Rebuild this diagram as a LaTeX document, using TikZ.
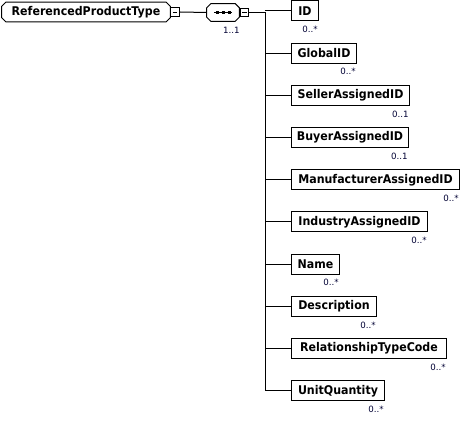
\documentclass[tikz,border=0pt]{standalone}
\usepackage{fontspec}
\setmainfont{DejaVu Sans}
\newfontfamily\boxfont{DejaVu Sans}[FakeStretch=0.92]
\begin{document}
\begin{tikzpicture}[x=0.75pt,y=-0.75pt,
  elem/.style={draw, line width=0.75pt, fill=white, minimum height=15pt, inner sep=0pt,
    font=\boxfont\bfseries\fontsize{9}{10}\selectfont, anchor=west},
  plainbox/.style={inner sep=0pt},
  chamf/.style={line width=0.75pt},
  card/.style={font=\fontsize{6.5}{7}\selectfont, anchor=north east, inner sep=0pt, text=black!80!blue},
  minusbox/.style={draw, line width=0.75pt, fill=white, minimum size=6.5pt, inner sep=0pt,
    path picture={\draw[line width=0.6pt] ([xshift=1.5pt]path picture bounding box.west) -- ([xshift=-1.5pt]path picture bounding box.east);}},
  conn/.style={line width=0.75pt}]
\useasboundingbox (0,0) rectangle (460,423);

% root element
\node[plainbox, minimum width=126pt, minimum height=14.25pt, font=\boxfont\bfseries\fontsize{9}{10}\selectfont] (root) at (86,12) {ReferencedProductType};
\draw[chamf] ([xshift=3pt]root.north west) -- ([xshift=-3pt]root.north east)
  -- ([yshift=-3pt]root.north east) -- ([yshift=3pt]root.south east)
  -- ([xshift=-3pt]root.south east) -- ([xshift=3pt]root.south west)
  -- ([yshift=3pt]root.south west) -- ([yshift=-3pt]root.north west) -- cycle;
\node[minusbox] (rminus) at (175,12) {};

% sequence compositor
\node[plainbox, minimum width=24pt, minimum height=12.75pt] (seq) at (223,12.5) {};
\draw[chamf] ([xshift=3pt]seq.north west) -- ([xshift=-3pt]seq.north east)
  -- ([yshift=-3pt]seq.north east) -- ([yshift=3pt]seq.south east)
  -- ([xshift=-3pt]seq.south east) -- ([xshift=3pt]seq.south west)
  -- ([yshift=3pt]seq.south west) -- ([yshift=-3pt]seq.north west) -- cycle;
\draw[conn] (214,12.5) -- (232,12.5);
\foreach \dx in {217,223,229} \fill (\dx-1.5,11) rectangle (\dx+1.5,14);
\node[minusbox] (sminus) at (244.5,12.5) {};
\node[card] (seqcard) at (240,27) {1..1};

\draw[conn] (rminus.east) -- (seq.west);
\coordinate (ttop) at (265,12.5);
\coordinate (tbot) at (265,390.8);
\draw[conn] (sminus.east) -- (ttop) -- (tbot);

\foreach \i/\t/\w/\c in {0/ID/27/{0..*},1/GlobalID/65/{0..*},2/SellerAssignedID/118/{0..1},
  3/BuyerAssignedID/117/{0..1},4/ManufacturerAssignedID/168/{0..*},5/IndustryAssignedID/136/{0..*},
  6/Name/48/{0..*},7/Description/85/{0..*},8/RelationshipTypeCode/155/{0..*},9/UnitQuantity/93/{0..*}}{
  \pgfmathsetmacro{\yc}{11+42.2*\i}
  \node[elem, minimum width=\w*0.75pt] (c\i) at (291,\yc) {\t};
  \node[card] (l\i) at (291+\w,\yc+15) {\c};
  \draw[conn] (c\i.west) -- (c\i.west -| ttop);
}
\end{tikzpicture}
\end{document}
